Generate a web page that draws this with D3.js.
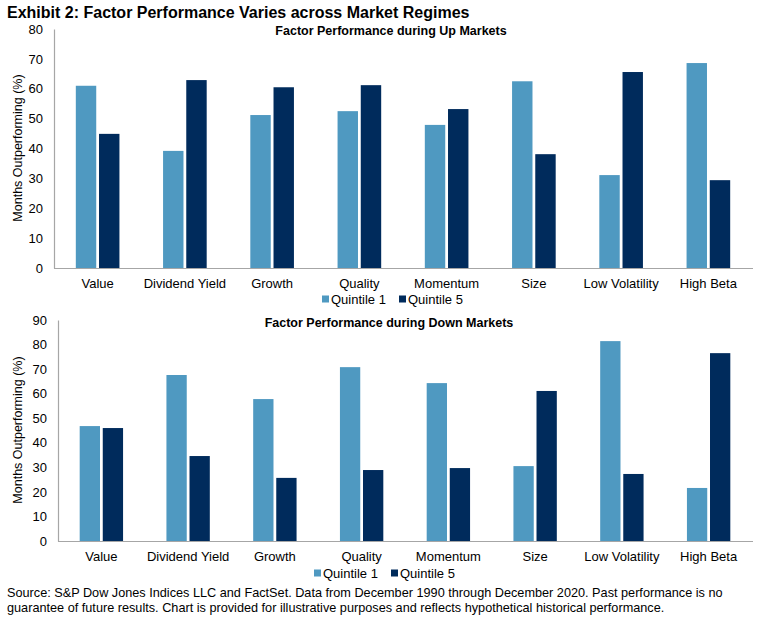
<!DOCTYPE html>
<html>
<head>
<meta charset="utf-8">
<script src="https://cdn.jsdelivr.net/npm/d3@7/dist/d3.min.js"></script>
<style>
  html, body { margin: 0; padding: 0; background: #fff; }
  svg { display: block; font-family: Arial, "Liberation Sans", sans-serif; }
</style>
</head>
<body>
<svg id="chart" width="760" height="621"></svg>
<script>
const categories = ["Value", "Dividend Yield", "Growth", "Quality", "Momentum", "Size", "Low Volatility", "High Beta"];
const seriesNames = ["Quintile 1", "Quintile 5"];
const upQ1 = [61, 39.2, 51.2, 52.5, 47.9, 62.5, 31.1, 68.6];
const upQ5 = [44.9, 62.9, 60.5, 61.2, 53.2, 38.1, 65.6, 29.4];
const downQ1 = [46.8, 67.6, 57.8, 70.8, 64.3, 30.5, 81.4, 21.6];
const downQ5 = [46.0, 34.6, 25.7, 28.9, 29.7, 61.1, 27.3, 76.5];
const upTicks = [0, 10, 20, 30, 40, 50, 60, 70, 80];
const downTicks = [0, 10, 20, 30, 40, 50, 60, 70, 80, 90];
const colors = ["#4f99c1", "#002b5c"];

const svg = d3.select("#chart");

svg.append("text")
  .attr("x", 7).attr("y", 18)
  .attr("font-size", 16).attr("font-weight", "bold").attr("fill", "#000")
  .text("Exhibit 2: Factor Performance Varies across Market Regimes");

function panel(cfg) {
  const { title, q1, q5, ticks, maxV, left, right, yTop, yBottom, titleX, titleY, labelX, tickX, catY, legendY, legendX, axisLabelY } = cfg;
  const g = svg.append("g");
  const y = d3.scaleLinear().domain([0, maxV]).range([yBottom, yTop]);
  const x0 = d3.scaleBand().domain(categories).range([left, right]).paddingInner(0.5).paddingOuter(0.25);
  const x1 = d3.scaleBand().domain(seriesNames).range([0, x0.bandwidth()]).paddingInner(0.12);
  const rows = categories.map((c, i) => ({ c, vals: [q1[i], q5[i]] }));

  g.append("text")
    .attr("x", titleX).attr("y", titleY)
    .attr("text-anchor", "middle")
    .attr("font-size", 12.5).attr("font-weight", "bold").attr("fill", "#000")
    .text(title);

  const grp = g.selectAll("g.cat").data(rows).join("g")
    .attr("transform", d => `translate(${x0(d.c)},0)`);
  grp.selectAll("rect").data(d => d.vals.map((v, k) => ({ v, k }))).join("rect")
    .attr("x", d => x1(seriesNames[d.k]))
    .attr("width", x1.bandwidth())
    .attr("y", d => y(d.v))
    .attr("height", d => y(0) - y(d.v))
    .attr("fill", d => colors[d.k]);

  // y axis
  const yAxis = d3.axisLeft(y).tickValues(ticks).tickSize(0).tickPadding(left - tickX);
  const ya = g.append("g").attr("transform", `translate(${left},0)`).call(yAxis);
  ya.select(".domain").attr("stroke", "#a6a6a6").attr("stroke-width", 1.2);
  ya.selectAll("text").attr("font-size", 13).attr("fill", "#000").attr("font-family", "Arial, 'Liberation Sans', sans-serif");

  // x axis
  const xAxis = d3.axisBottom(x0).tickSize(0).tickPadding(catY - yBottom);
  const xa = g.append("g").attr("transform", `translate(0,${yBottom})`).call(xAxis);
  xa.select(".domain").attr("d", `M${left},0.5H${right + 1}`).attr("stroke", "#a6a6a6").attr("stroke-width", 1.2);
  xa.selectAll("text").attr("font-size", 13).attr("fill", "#000").attr("font-family", "Arial, 'Liberation Sans', sans-serif");

  g.append("text")
    .attr("transform", `translate(${labelX},${axisLabelY}) rotate(-90)`)
    .attr("text-anchor", "middle")
    .attr("font-size", 12.5).attr("fill", "#000")
    .text("Months Outperforming (%)");

  // legend
  const lg = g.append("g").attr("transform", `translate(${legendX},${legendY})`);
  const offsets = [0, 77];
  seriesNames.forEach((s, k) => {
    lg.append("rect").attr("x", offsets[k]).attr("y", -3.5).attr("width", 7).attr("height", 7).attr("fill", colors[k]);
    lg.append("text").attr("x", offsets[k] + 9).attr("y", 4.5)
      .attr("font-size", 13).attr("fill", "#000").text(s);
  });
}

panel({
  title: "Factor Performance during Up Markets",
  q1: upQ1, q5: upQ5, ticks: upTicks, maxV: 80,
  left: 54, right: 752, yTop: 29, yBottom: 268,
  titleX: 391, titleY: 35, labelX: 22, axisLabelY: 148, tickX: 43, catY: 279,
  legendX: 322, legendY: 299
});

panel({
  title: "Factor Performance during Down Markets",
  q1: downQ1, q5: downQ5, ticks: downTicks, maxV: 90,
  left: 58, right: 752, yTop: 320, yBottom: 541,
  titleX: 389, titleY: 327, labelX: 22, axisLabelY: 430, tickX: 47, catY: 552,
  legendX: 314, legendY: 573
});

svg.append("text").attr("x", 7).attr("y", 597)
  .attr("font-size", 12.7).attr("fill", "#000")
  .text("Source: S&P Dow Jones Indices LLC and FactSet. Data from December 1990 through December 2020. Past performance is no");
svg.append("text").attr("x", 7).attr("y", 612)
  .attr("font-size", 12.7).attr("fill", "#000")
  .text("guarantee of future results. Chart is provided for illustrative purposes and reflects hypothetical historical performance.");
</script>
</body>
</html>
